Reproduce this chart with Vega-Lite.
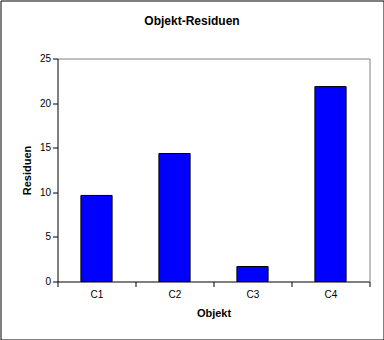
{
  "$schema": "https://vega.github.io/schema/vega-lite/v6.json",
  "width": 383,
  "height": 339,
  "autosize": {"type": "none"},
  "padding": {"left": 0.5, "top": 0.5, "right": 0.5, "bottom": 0.5},
  "background": "white",
  "config": {
    "view": {"stroke": "black", "strokeWidth": 1},
    "font": "Liberation Sans"
  },
  "title": {
    "text": "Objekt-Residuen",
    "fontSize": 12,
    "fontWeight": "bold",
    "font": "Liberation Sans",
    "color": "black",
    "anchor": "middle",
    "frame": "group",
    "offset": -36,
    "baseline": "alphabetic"
  },
  "data": {
    "values": [
      {"Objekt": "C1", "Residuen": 9.65},
      {"Objekt": "C2", "Residuen": 14.35},
      {"Objekt": "C3", "Residuen": 1.68},
      {"Objekt": "C4", "Residuen": 21.85}
    ]
  },
  "layer": [
    {
      "mark": {"type": "bar", "color": "#0000FF", "stroke": "black", "strokeWidth": 1, "width": {"band": 0.4}},
      "encoding": {
        "x": {
          "field": "Objekt",
          "type": "nominal",
          "sort": null,
          "scale": {"range": [57, 369], "paddingInner": 0, "paddingOuter": 0},
          "axis": {
            "orient": "bottom",
            "offset": -58,
            "tickBand": "extent",
            "domainColor": "black",
            "tickColor": "black",
            "tickSize": 5,
            "labelAngle": 0,
            "labelFontSize": 10,
            "labelColor": "black",
            "labelPadding": 3,
            "title": "Objekt",
            "titleFontSize": 11,
            "titleFontWeight": "bold",
            "titleColor": "black",
            "titleY": 32,
            "titleBaseline": "middle",
            "grid": false
          }
        },
        "y": {
          "field": "Residuen",
          "type": "quantitative",
          "scale": {"domain": [0, 25], "range": [281, 58], "nice": false, "zero": true},
          "axis": {
            "orient": "left",
            "offset": -57,
            "values": [0, 5, 10, 15, 20, 25],
            "tickSize": 5,
            "domainColor": "black",
            "tickColor": "black",
            "labelFontSize": 10,
            "labelColor": "black",
            "labelPadding": 2,
            "title": "Residuen",
            "titleFontSize": 11,
            "titleFontWeight": "bold",
            "titleColor": "black",
            "titleX": -30,
            "titleBaseline": "middle",
            "grid": false
          }
        }
      }
    },
    {
      "mark": {"type": "bar", "opacity": 0},
      "encoding": {
        "x": {
          "field": "Objekt",
          "type": "nominal",
          "sort": null,
          "axis": {"orient": "top", "offset": -58, "domainColor": "#808080", "ticks": false, "labels": false, "title": null, "grid": false}
        },
        "y": {
          "field": "Residuen",
          "type": "quantitative",
          "axis": {"orient": "right", "offset": -14, "domainColor": "#808080", "ticks": false, "labels": false, "title": null, "grid": false}
        }
      }
    }
  ],
  "resolve": {"axis": {"x": "independent", "y": "independent"}}
}
